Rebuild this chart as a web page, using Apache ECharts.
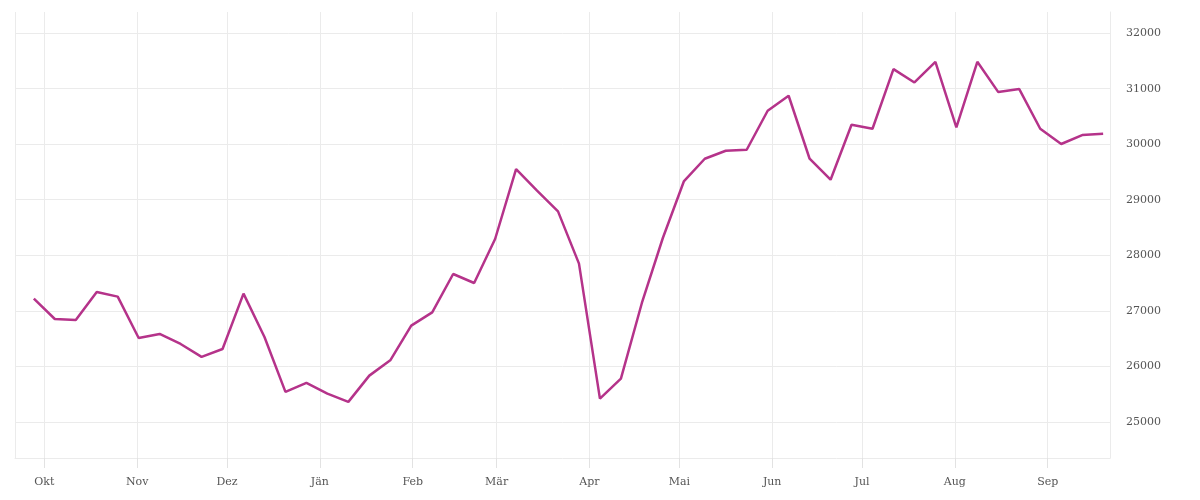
<!DOCTYPE html>
<html>
<head>
<meta charset="utf-8">
<script src="https://cdn.jsdelivr.net/npm/echarts@6/dist/echarts.min.js"></script>
<style>
html,body{margin:0;padding:0;background:#fff;}
#chart{width:1200px;height:500px;}
</style>
</head>
<body>
<div id="chart"></div>
<script>
const monthNames = ['Jän','Feb','Mär','Apr','Mai','Jun','Jul','Aug','Sep','Okt','Nov','Dez'];
const dates = [
  '2022-09-27','2022-10-04','2022-10-11','2022-10-18','2022-10-25',
  '2022-11-01','2022-11-08','2022-11-15','2022-11-22','2022-11-29',
  '2022-12-06','2022-12-13','2022-12-20','2022-12-27',
  '2023-01-03','2023-01-10','2023-01-17','2023-01-24','2023-01-31',
  '2023-02-07','2023-02-14','2023-02-21','2023-02-28',
  '2023-03-07','2023-03-14','2023-03-21','2023-03-28',
  '2023-04-04','2023-04-11','2023-04-18','2023-04-25',
  '2023-05-02','2023-05-09','2023-05-16','2023-05-23','2023-05-30',
  '2023-06-06','2023-06-13','2023-06-20','2023-06-27',
  '2023-07-04','2023-07-11','2023-07-18','2023-07-25',
  '2023-08-01','2023-08-08','2023-08-15','2023-08-22','2023-08-29',
  '2023-09-05','2023-09-12','2023-09-19'
];
const values = [
  27219,26853,26835,27339,27255,
  26511,26583,26403,26170,26313,
  27309,26529,25540,25702,
  25509,25360,25833,26108,26733,
  26972,27663,27501,28293,
  29553,29162,28790,27849,
  25419,25779,27141,28311,
  29329,29738,29882,29900,30602,
  30872,29738,29360,30350,
  30278,31352,31111,31484,
  30301,31484,30938,30992,30278,
  30003,30165,30188
];
const xMin = '2022-09-21T05:00:00';
const xMax = '2023-09-21T19:00:00';
const yMin = 24350;
const yMax = 32380;

const chart = echarts.init(document.getElementById('chart'), null, {renderer: 'canvas'});
const fontFamily = '"DejaVu Serif", serif';
const gridColor = '#ebebeb';
chart.setOption({
  animation: false,
  backgroundColor: '#ffffff',
  grid: {left: 15, right: 90, top: 12, bottom: 42, containLabel: false},
  xAxis: {
    type: 'time',
    min: xMin,
    max: xMax,
    splitNumber: 12,
    minInterval: 28 * 86400000,
    maxInterval: 31 * 86400000,
    axisLine: {show: true, lineStyle: {color: gridColor, width: 1}},
    axisTick: {show: true, inside: false, length: 10, lineStyle: {color: '#e2e2e2', width: 1}},
    splitLine: {show: true, lineStyle: {color: gridColor, width: 1}},
    axisLabel: {
      margin: 19,
      color: '#555',
      fontFamily: fontFamily,
      fontSize: 11,
      formatter: function (val) { return monthNames[new Date(val).getMonth()]; }
    }
  },
  yAxis: {
    type: 'value',
    position: 'right',
    min: yMin,
    max: yMax,
    splitNumber: 8,
    axisLine: {show: true, lineStyle: {color: gridColor, width: 1}},
    axisTick: {show: false},
    splitLine: {show: true, showMinLine: false, showMaxLine: false, lineStyle: {color: gridColor, width: 1}},
    axisLabel: {
      margin: 16,
      color: '#555',
      fontFamily: fontFamily,
      fontSize: 11,
      showMinLabel: false,
      showMaxLabel: false,
      formatter: function (v) { return String(v); }
    }
  },
  series: [{
    type: 'line',
    data: dates.map((d, i) => [d + 'T12:00:00', values[i]]),
    showSymbol: false,
    symbol: 'none',
    lineStyle: {color: '#b5338a', width: 2.5},
    itemStyle: {color: '#b5338a'}
  }]
});
</script>
</body>
</html>
